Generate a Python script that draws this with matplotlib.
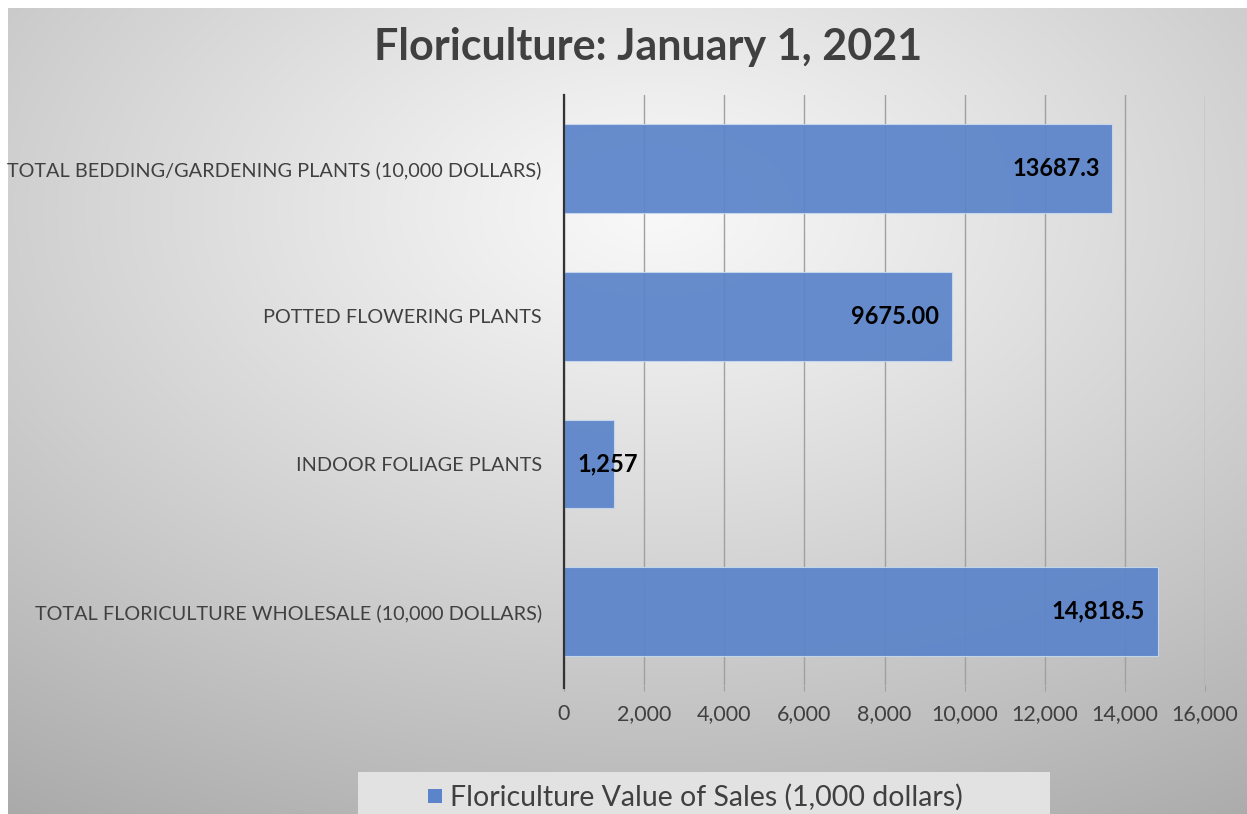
import numpy as np
import matplotlib.pyplot as plt
from matplotlib.patches import Rectangle

# data
categories = ['TOTAL FLORICULTURE WHOLESALE (10,000 DOLLARS)',
              'INDOOR FOLIAGE PLANTS',
              'POTTED FLOWERING PLANTS',
              'TOTAL BEDDING/GARDENING PLANTS (10,000 DOLLARS)']
values = [14818.5, 1257, 9675.00, 13687.3]
value_labels = ['14,818.5', '1,257', '9675.00', '13687.3']
x_ticks = [0, 2000, 4000, 6000, 8000, 10000, 12000, 14000, 16000]
series_name = 'Floriculture Value of Sales (1,000 dollars)'

bar_color = '#5b84ca'
text_color = '#404040'
font = ['Lato', 'DejaVu Sans']

fig = plt.figure(figsize=(12.47, 8.14), dpi=100)
fig.patch.set_facecolor('white')

# gradient background
bg = fig.add_axes([8 / 1247, 0, 1 - 8 / 1247, 1 - 8 / 814], zorder=0)
h, w = 400, 620
yy, xx = np.mgrid[0:h, 0:w]
cx, cy = w * 0.52, h * 0.25
d = np.sqrt(((xx - cx) / w) ** 2 + ((yy - cy) / h) ** 2 * 1.1)
shade = 0.975 - 0.33 * np.clip(d, 0, 1) ** 1.1
img = np.dstack([shade, shade, shade])
bg.imshow(img, aspect='auto', extent=[0, 1, 0, 1], origin='upper')
bg.set_xlim(0, 1)
bg.set_ylim(0, 1)
bg.axis('off')

ax = fig.add_axes([564 / 1247, 1 - 685 / 814, 641 / 1247, 590 / 814], zorder=1)
ax.set_facecolor('none')
ypos = np.arange(len(categories))
bars = ax.barh(ypos, values, height=0.6, color=bar_color, alpha=0.93,
               edgecolor='#c8d8ee', linewidth=0.8, zorder=3)
ax.set_xlim(0, 16000)
ax.set_ylim(-0.5, 3.5)
ax.set_xticks(x_ticks)
ax.set_xticklabels([f'{t:,}' for t in x_ticks], fontsize=15.5,
                   color=text_color, family=font)
ax.set_yticks(ypos)
ax.set_yticklabels(categories, fontsize=14.3, color=text_color, family=font)
ax.tick_params(axis='y', length=0, pad=16)
ax.tick_params(axis='x', length=4, color='#a0a0a0', pad=10)
ax.xaxis.grid(True, color='#a0a0a0', linewidth=1.0, zorder=2)
ax.set_axisbelow(True)
for s in ['top', 'right', 'bottom']:
    ax.spines[s].set_visible(False)
ax.spines['left'].set_color('#333333')
ax.spines['left'].set_linewidth(1.6)
ax.spines['left'].set_bounds(-0.52, 3.5)
ax.spines['left'].set_zorder(4)

for b, lab in zip(bars, value_labels):
    yc = b.get_y() + b.get_height() / 2
    if b.get_width() < 3000:
        ax.text(330, yc, lab, ha='left', va='center', fontsize=17,
                fontweight='bold', color='black', family=font, zorder=5)
    else:
        ax.text(b.get_width() - 320, yc, lab, ha='right', va='center',
                fontsize=17, fontweight='bold', color='black', family=font,
                zorder=5)

fig.text(0.52, 1 - 47 / 814, 'Floriculture: January 1, 2021', ha='center',
         va='center', fontsize=31, fontweight='bold', color=text_color,
         family=font)

# legend box
fig.patches.append(Rectangle((358 / 1247, 0), 692 / 1247, 42 / 814,
                             transform=fig.transFigure, facecolor='#e2e2e2',
                             edgecolor='none', zorder=2))
fig.patches.append(Rectangle((428 / 1247, 11 / 814), 14 / 1247, 14 / 814,
                             transform=fig.transFigure, facecolor=bar_color,
                             edgecolor='none', zorder=3))
fig.text(450 / 1247, 17 / 814, series_name, ha='left', va='center',
         fontsize=20.5, color=text_color, family=font, zorder=3)

fig.savefig('out.png', dpi=100)
